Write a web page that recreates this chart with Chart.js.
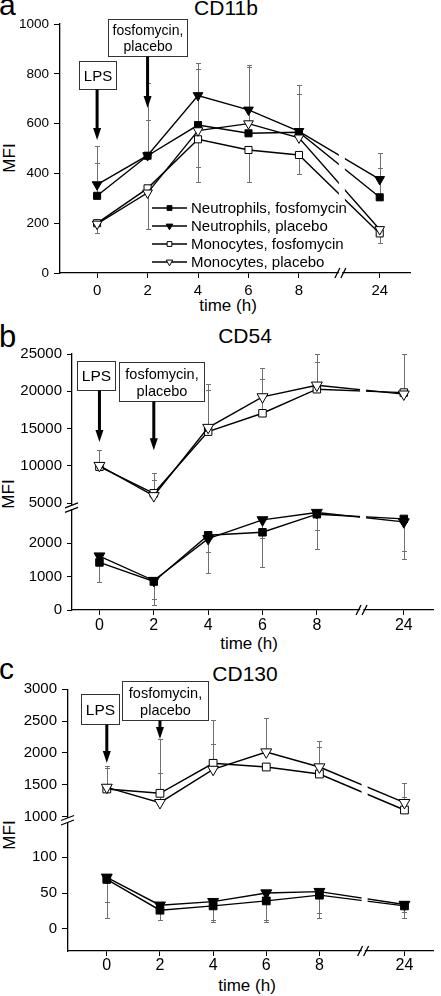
<!DOCTYPE html>
<html><head><meta charset="utf-8">
<script src="https://cdn.jsdelivr.net/npm/chart.js@4.4.1/dist/chart.umd.min.js"></script>
<style>
html,body{margin:0;padding:0;background:#fff;}
body{width:441px;height:996px;position:relative;overflow:hidden;font-family:"Liberation Sans",Arial,sans-serif;color:#000;}
canvas{position:absolute;left:0;}
.t{position:absolute;white-space:nowrap;line-height:1;font-weight:normal;}
.c{transform:translateX(-50%);}
.r{transform:translate(-50%,-50%) rotate(-90deg);}
</style></head><body>
<div class="t" style="left:-1px;top:-10px;font-size:30px">a</div>
<div class="t c" style="left:226px;top:-3px;font-size:21px">CD11b</div>
<div class="t r" style="left:9px;top:158px;font-size:17px">MFI</div>
<div class="t c" style="left:228px;top:297px;font-size:17px">time (h)</div>

<div class="t" style="left:-1px;top:321px;font-size:31px">b</div>
<div class="t c" style="left:245px;top:325px;font-size:21px">CD54</div>
<div class="t r" style="left:8px;top:494px;font-size:17px">MFI</div>
<div class="t c" style="left:249px;top:635px;font-size:17px">time (h)</div>

<div class="t" style="left:-1px;top:654px;font-size:30px">c</div>
<div class="t c" style="left:245px;top:663px;font-size:21px">CD130</div>
<div class="t r" style="left:9px;top:835px;font-size:17px">MFI</div>
<div class="t c" style="left:247px;top:977px;font-size:17px">time (h)</div>

<canvas id="ca" width="441" height="297" style="top:0px"></canvas>
<canvas id="cb" width="441" height="335" style="top:300px"></canvas>
<canvas id="cc" width="441" height="336" style="top:640px"></canvas>
<script>
// ---------- data ----------
const timesH = [0, 2, 4, 6, 8, 24];
const timeTickLabels = ['0', '2', '4', '6', '8', '24'];
const seriesNames = ['Neutrophils, fosfomycin', 'Neutrophils, placebo', 'Monocytes, fosfomycin', 'Monocytes, placebo'];
const labelLPS = ['LPS'];
const labelDrug = ['fosfomycin,', 'placebo'];

// CD11b (panel a)
const cd11bNeutFosf = [310, 471, 594, 561, 565, 304];
const cd11bNeutPlac = [355, 472, 713, 655, 569, 376];
const cd11bMonoFosf = [200, 340, 537, 494, 474, 159];
const cd11bMonoPlac = [197, 322, 572, 600, 543, 175];
const cd11bNeutFosfErr = [443, 614, 819, null, 718, 423];
const cd11bNeutPlacErr = [510, 762, 845, 835, 757, 483];
const cd11bMonoFosfErr = [160, null, 367, 367, 398, 119];
const cd11bMonoPlacErr = [null, 175, 427, 827, null, null];
const cd11bTicks = [0, 200, 400, 600, 800, 1000];

// CD54 (panel b)
const cd54NeutFosf = [1420, 850, 2230, 2320, 2860, 2720];
const cd54NeutPlac = [1610, 880, 2130, 2690, 2910, 2630];
const cd54MonoFosf = [9900, 6340, 14600, 17060, 20280, 19830];
const cd54MonoPlac = [10050, 6000, 15150, 19250, 20820, 19620];
const cd54NeutFosfErr = [850, 150, 1115, 1290, 1830, 1510];
const cd54NeutPlacErr = [830, 320, 1720, 2160, 2390, 1770];
const cd54MonoFosfErr = [12100, 9020, 20950, 23100, 25000, 25000];
const cd54MonoPlacErr = [null, 8120, 20190, 21620, 23900, null];
const cd54HighTicks = [5000, 10000, 15000, 20000, 25000];
const cd54LowTicks = [0, 1000, 2000];

// CD130 (panel c)
const cd130NeutFosf = [69, 26, 32, 39, 47, 32];
const cd130NeutPlac = [72, 33, 38, 50, 52, 34];
const cd130MonoFosf = [1435, 1367, 1838, 1780, 1670, 1105];
const cd130MonoPlac = [1460, 1220, 1742, 2015, 1780, 1220];
const cd130NeutFosfErr = [15, 13, 9, 10, 14.5, 15];
const cd130NeutPlacErr = [38, null, 12, 12, 21.5, 23];
const cd130MonoFosfErr = [1803, 1680, 2141, null, 2090, 1315];
const cd130MonoPlacErr = [1770, 2215, 2513, 2555, 2188, 1524];
const cd130HighTicks = [1000, 1500, 2000, 2500, 3000];
const cd130LowTicks = [0, 50, 100];

// ---------- broken time axis mapping ----------
const lastBeforeBreak = 8, compressedGap = 3.2, breakPos = 9.7;
const axisPos = h => (h <= lastBeforeBreak ? h : lastBeforeBreak + compressedGap);

const FF = '"Liberation Sans", Arial, sans-serif';
const STY = [
  {ps: 'rect', fill: '#000'},
  {ps: 'tri', fill: '#000'},
  {ps: 'rect', fill: '#fff'},
  {ps: 'tri', fill: '#fff'}
];

function markerPath(ctx, ps, x, y, r) {
  ctx.beginPath();
  if (ps === 'rect') {
    const s = r * Math.SQRT1_2;
    ctx.rect(x - s, y - s, 2 * s, 2 * s);
  } else {
    for (let k = 0; k < 3; k++) {
      const a = Math.PI / 2 + k * 2 * Math.PI / 3;
      const px = x + r * Math.cos(a), py = y + r * Math.sin(a);
      if (k === 0) ctx.moveTo(px, py); else ctx.lineTo(px, py);
    }
    ctx.closePath();
  }
}

const deco = {
  id: 'deco',
  beforeDatasetsDraw(chart, args, o) {
    const ctx = chart.ctx, xs = chart.scales.x, ca = chart.chartArea;
    ctx.save();
    ctx.beginPath(); ctx.rect(ca.left, ca.top - 1, ca.width, ca.height + 1); ctx.clip();
    ctx.strokeStyle = '#707070'; ctx.lineWidth = 1;
    chart.data.datasets.forEach(ds => {
      const ys = chart.scales[ds.yAxisID];
      ds.data.forEach((p, i) => {
        const e = ds.errEnd[i];
        if (e == null) return;
        const px = Math.round(xs.getPixelForValue(p.x)) + 0.5;
        const y0 = ys.getPixelForValue(p.y), y1 = Math.round(ys.getPixelForValue(e)) + 0.5;
        ctx.beginPath();
        ctx.moveTo(px, y0); ctx.lineTo(px, y1);
        ctx.moveTo(px - 2.5, y1); ctx.lineTo(px + 2.5, y1);
        ctx.stroke();
      });
    });
    ctx.restore();
  },
  afterDatasetsDraw(chart, args, o) {
    const ctx = chart.ctx, xs = chart.scales.x, ca = chart.chartArea;
    const bx = xs.getPixelForValue(breakPos);
    ctx.save();
    ctx.fillStyle = '#fff';
    ctx.fillRect(bx - 3, ca.top, 6, ca.height - 2);
    ctx.restore();
  },
  afterDraw(chart, args, o) {
    const ctx = chart.ctx, xs = chart.scales.x, ca = chart.chartArea;
    ctx.save();
    // x-axis break
    const bx = xs.getPixelForValue(breakPos), by = ca.bottom;
    ctx.fillStyle = '#fff';
    ctx.beginPath();
    ctx.moveTo(bx - 5, by + 4); ctx.lineTo(bx - 1, by - 4); ctx.lineTo(bx + 2, by - 4); ctx.lineTo(bx - 2, by + 4); ctx.closePath();
    ctx.fill();
    ctx.strokeStyle = '#000'; ctx.lineWidth = 1.3;
    ctx.beginPath();
    ctx.moveTo(bx - 7, by + 5); ctx.lineTo(bx - 2, by - 5);
    ctx.moveTo(bx - 1, by + 5); ctx.lineTo(bx + 4, by - 5);
    ctx.stroke();
    // y-axis break
    if (chart.scales.yLow) {
      const ax = ca.left, yj = chart.scales.yLow.top;
      ctx.fillStyle = '#fff';
      ctx.fillRect(ax - 2, yj - 2, 4, 4);
      ctx.beginPath();
      ctx.moveTo(ax - 7, yj + 0.5); ctx.lineTo(ax + 6, yj - 4.5);
      ctx.moveTo(ax - 7, yj + 5); ctx.lineTo(ax + 6, yj);
      ctx.stroke();
    }
    // annotations
    (o.annos || []).forEach(a => {
      const ys = chart.scales[a.axis];
      const cx = xs.getPixelForValue(a.boxX);
      const top = Math.round(ys.getPixelForValue(a.boxTop)) + 0.5;
      const left = Math.round(cx - a.w / 2) + 0.5;
      ctx.fillStyle = '#fff'; ctx.strokeStyle = '#333'; ctx.lineWidth = 1;
      ctx.fillRect(left, top, a.w, a.h); ctx.strokeRect(left, top, a.w, a.h);
      ctx.fillStyle = '#000';
      ctx.font = a.font + 'px ' + FF;
      ctx.textAlign = 'center'; ctx.textBaseline = 'middle';
      const n = a.text.length;
      a.text.forEach((t, i) => {
        ctx.fillText(t, left + a.w / 2, top + a.h / 2 + (i - (n - 1) / 2) * a.lineH + 1);
      });
      const ax = xs.getPixelForValue(a.arrowX);
      const tip = ys.getPixelForValue(a.tip);
      ctx.strokeStyle = '#000'; ctx.lineWidth = 3;
      ctx.beginPath(); ctx.moveTo(ax, top + a.h); ctx.lineTo(ax, tip - 10); ctx.stroke();
      ctx.beginPath();
      ctx.moveTo(ax, tip); ctx.lineTo(ax - 4, tip - 12); ctx.lineTo(ax + 4, tip - 12); ctx.closePath();
      ctx.fill();
    });
    // legend
    if (o.legend) {
      const L = o.legend;
      ctx.font = L.font + 'px ' + FF;
      ctx.textAlign = 'left'; ctx.textBaseline = 'middle';
      chart.data.datasets.forEach((ds, i) => {
        const y = L.top + i * L.rowH;
        const x0 = ca.left + L.left;
        ctx.strokeStyle = '#000'; ctx.lineWidth = 1.3;
        ctx.beginPath(); ctx.moveTo(x0, y); ctx.lineTo(x0 + L.sampleW, y); ctx.stroke();
        markerPath(ctx, STY[i].ps, x0 + L.sampleW / 2, y, STY[i].ps === 'rect' ? 3.4 : 3.8);
        ctx.fillStyle = STY[i].fill; ctx.fill();
        ctx.lineWidth = 1; ctx.strokeStyle = '#000'; ctx.stroke();
        ctx.fillStyle = '#000';
        ctx.fillText(ds.label, x0 + L.sampleW + L.gap, y + 1);
      });
    }
    ctx.restore();
  }
};

function makeChart(id, cfg) {
  const datasets = cfg.series.map((s, i) => ({
    label: seriesNames[i],
    data: timesH.map((h, j) => ({x: axisPos(h), y: s.vals[j]})),
    errEnd: s.errs,
    yAxisID: s.axis,
    borderColor: '#000', borderWidth: 1.4,
    backgroundColor: STY[i].fill,
    pointBackgroundColor: STY[i].fill, pointBorderColor: '#000', pointBorderWidth: 1,
    pointStyle: STY[i].ps === 'rect' ? 'rect' : 'triangle',
    rotation: STY[i].ps === 'rect' ? 0 : 180,
    pointRotation: STY[i].ps === 'rect' ? 0 : 180,
    pointRadius: STY[i].ps === 'rect' ? cfg.rectR : cfg.triR,
    pointHoverRadius: STY[i].ps === 'rect' ? cfg.rectR : cfg.triR,
    tension: 0, fill: false, order: 4 - i
  }));
  const yBase = (ticksArr, extra) => Object.assign({
    type: 'linear', position: 'left',
    afterBuildTicks: ax => { ax.ticks = ticksArr.map(v => ({value: v})); },
    ticks: {callback: v => String(v), autoSkip: false, font: {size: cfg.yFont, family: FF}, color: '#000', padding: cfg.yPad},
    grid: {drawOnChartArea: false, drawTicks: true, tickLength: cfg.yTL, color: '#000', lineWidth: 1},
    border: {display: true, color: '#000', width: 1.3},
    afterFit: ax => { ax.width = cfg.yW; }
  }, extra);
  const scales = {
    x: {
      type: 'linear', min: cfg.xMin, max: cfg.xMax,
      afterBuildTicks: ax => { ax.ticks = timesH.map(h => ({value: axisPos(h)})); },
      ticks: {callback: (v, i) => timeTickLabels[i], font: {size: cfg.xFont, family: FF}, color: '#000', padding: cfg.xPad, maxRotation: 0, autoSkip: false},
      grid: {drawOnChartArea: false, drawTicks: true, tickLength: 5, color: '#000', lineWidth: 1},
      border: {display: true, color: '#000', width: 1.3},
      afterFit: ax => { ax.height = cfg.xH; }
    }
  };
  cfg.yAxes.forEach(y => { scales[y.id] = yBase(y.ticks, y.opts); });
  return new Chart(document.getElementById(id), {
    type: 'line',
    data: {datasets},
    options: {
      responsive: false, animation: false, devicePixelRatio: 1,
      layout: {padding: cfg.pad},
      plugins: {legend: {display: false}, tooltip: {enabled: false}, deco: cfg.deco},
      scales
    },
    plugins: [deco]
  });
}

// Panel a
makeChart('ca', {
  pad: {top: 24, left: 0, right: 31, bottom: 0},
  yW: 60, xH: 24, xMin: -1.47, xMax: 12.4,
  xFont: 15, xPad: 4, yFont: 13.5, yPad: 5, yTL: 6,
  rectR: 5, triR: 5.6,
  yAxes: [{id: 'y', ticks: cd11bTicks, opts: {min: 0, max: 1000}}],
  series: [
    {vals: cd11bNeutFosf, errs: cd11bNeutFosfErr, axis: 'y'},
    {vals: cd11bNeutPlac, errs: cd11bNeutPlacErr, axis: 'y'},
    {vals: cd11bMonoFosf, errs: cd11bMonoFosfErr, axis: 'y'},
    {vals: cd11bMonoPlac, errs: cd11bMonoPlacErr, axis: 'y'}
  ],
  deco: {
    annos: [
      {axis: 'y', boxX: 0, boxTop: 851, w: 37, h: 28, text: labelLPS, font: 15, lineH: 16, arrowX: 0, tip: 534},
      {axis: 'y', boxX: 1.98, boxTop: 1020, w: 79, h: 37, text: labelDrug, font: 14, lineH: 16, arrowX: 2, tip: 663}
    ],
    legend: {left: 92, top: 208, rowH: 18, sampleW: 35, gap: 4, font: 15}
  }
});

// Panel b
makeChart('cb', {
  pad: {top: 54, left: 0, right: 4, bottom: 0},
  yW: 72, xH: 25, xMin: -1.01, xMax: 12.3,
  xFont: 16, xPad: 1, yFont: 15, yPad: 5, yTL: 5,
  rectR: 5.3, triR: 6.3,
  yAxes: [
    {id: 'yHigh', ticks: cd54HighTicks, opts: {min: 4460, max: 25000, stack: 'mfi', stackWeight: 153.3, weight: 2}},
    {id: 'yLow', ticks: cd54LowTicks, opts: {min: 0, max: 3066, stack: 'mfi', stackWeight: 102.7, weight: 1}}
  ],
  series: [
    {vals: cd54NeutFosf, errs: cd54NeutFosfErr, axis: 'yLow'},
    {vals: cd54NeutPlac, errs: cd54NeutPlacErr, axis: 'yLow'},
    {vals: cd54MonoFosf, errs: cd54MonoFosfErr, axis: 'yHigh'},
    {vals: cd54MonoPlac, errs: cd54MonoPlacErr, axis: 'yHigh'}
  ],
  deco: {
    annos: [
      {axis: 'yHigh', boxX: -0.14, boxTop: 24075, w: 38, h: 29, text: labelLPS, font: 15.5, lineH: 17, arrowX: 0, tip: 13200},
      {axis: 'yHigh', boxX: 2.3, boxTop: 23940, w: 85, h: 39, text: labelDrug, font: 14.5, lineH: 17, arrowX: 2, tip: 12100}
    ]
  }
});

// Panel c
makeChart('cc', {
  pad: {top: 49.3, left: 0, right: 4, bottom: 0},
  yW: 68, xH: 25, xMin: -1.46, xMax: 12.3,
  xFont: 16, xPad: 0, yFont: 15, yPad: 5, yTL: 6,
  rectR: 5.5, triR: 6.3,
  yAxes: [
    {id: 'yHigh', ticks: cd130HighTicks, opts: {min: 948, max: 3000, stack: 'mfi', stackWeight: 130.7, weight: 2}},
    {id: 'yLow', ticks: cd130LowTicks, opts: {min: -31, max: 152, stack: 'mfi', stackWeight: 131, weight: 1}}
  ],
  series: [
    {vals: cd130NeutFosf, errs: cd130NeutFosfErr, axis: 'yLow'},
    {vals: cd130NeutPlac, errs: cd130NeutPlacErr, axis: 'yLow'},
    {vals: cd130MonoFosf, errs: cd130MonoFosfErr, axis: 'yHigh'},
    {vals: cd130MonoPlac, errs: cd130MonoPlacErr, axis: 'yHigh'}
  ],
  deco: {
    annos: [
      {axis: 'yHigh', boxX: -0.26, boxTop: 2926, w: 38, h: 30, text: labelLPS, font: 15.5, lineH: 17, arrowX: 0, tip: 1844},
      {axis: 'yHigh', boxX: 2.2, boxTop: 3130, w: 86, h: 39, text: labelDrug, font: 14.5, lineH: 17, arrowX: 2, tip: 2219}
    ]
  }
});
</script>
</body></html>
